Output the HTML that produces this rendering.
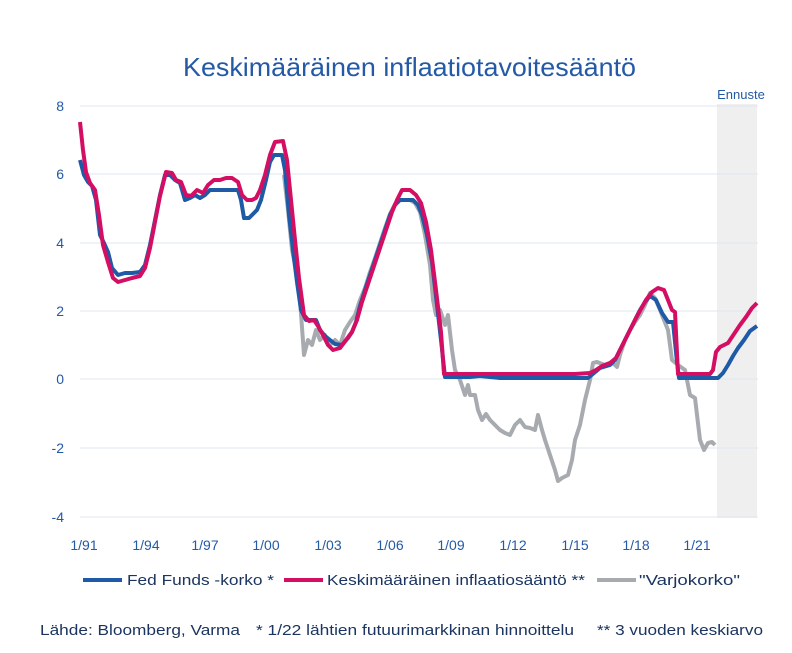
<!DOCTYPE html>
<html><head><meta charset="utf-8"><style>
body{margin:0;background:#fff;width:792px;height:648px;overflow:hidden;font-family:"Liberation Sans",sans-serif}
</style></head><body>
<svg width="792" height="648" viewBox="0 0 792 648" xmlns="http://www.w3.org/2000/svg" font-family="Liberation Sans, sans-serif">
<rect x="717" y="104" width="40" height="414" fill="#efefef"/>
<text x="183" y="76" font-size="26" fill="#2459a6" textLength="453" lengthAdjust="spacingAndGlyphs">Keskimääräinen inflaatiotavoitesääntö</text>
<text x="741" y="99" text-anchor="middle" font-size="13" fill="#2459a6">Ennuste</text>
<g stroke="#dfe5ee" stroke-width="1">
<line x1="80" y1="106" x2="758" y2="106"/><line x1="80" y1="174" x2="758" y2="174"/><line x1="80" y1="243" x2="758" y2="243"/><line x1="80" y1="311" x2="758" y2="311"/><line x1="80" y1="379" x2="758" y2="379"/><line x1="80" y1="448" x2="758" y2="448"/><line x1="80" y1="517" x2="758" y2="517"/>
</g>
<g font-size="14" fill="#2459a6" text-anchor="end">
<text x="64" y="111">8</text><text x="64" y="179">6</text><text x="64" y="248">4</text><text x="64" y="316">2</text><text x="64" y="384">0</text><text x="64" y="453">-2</text><text x="64" y="522">-4</text>
</g>
<g font-size="14" fill="#2459a6" text-anchor="middle">
<text x="84" y="550">1/91</text><text x="146" y="550">1/94</text><text x="205" y="550">1/97</text><text x="266" y="550">1/00</text><text x="328" y="550">1/03</text><text x="390" y="550">1/06</text><text x="451" y="550">1/09</text><text x="513" y="550">1/12</text><text x="575" y="550">1/15</text><text x="636" y="550">1/18</text><text x="697" y="550">1/21</text>
</g>
<g fill="none" stroke-width="4" stroke-linejoin="round">
<polyline stroke="#a7abb0" points="284,175 288,210 292,250 296,270 300,300 304,355 308,340 312,345 316,330 320,340 325,335 330,345 335,340 340,345 345,330 350,322 355,315 360,300 365,288 370,272 375,258 380,243 385,228 390,214 395,204 400,200 405,200 410,200 415,203 420,212 425,235 430,265 433,300 436,315 440,310 445,325 448,315 452,350 455,370 460,380 465,395 468,385 470,395 475,395 478,410 482,420 486,414 490,420 495,425 500,430 505,433 510,435 515,425 520,420 525,427 530,428 535,430 538,415 542,430 545,440 550,455 555,470 558,481 562,478 568,475 572,460 575,440 580,425 585,400 590,380 593,363 597,362 605,365 612,362 617,367 620,355 625,340 630,330 635,322 640,315 645,305 650,293 655,298 660,310 668,330 672,360 678,365 685,370 690,395 695,398 700,440 704,450 708,443 712,442 715,445"/>
<polyline stroke="#1f5aa6" points="80,160 84,175 88,182 92,186 96,200 100,235 104,243 108,252 112,268 118,275 125,273 132,273 140,272 145,265 150,245 155,220 160,195 165,175 170,175 175,180 180,183 185,200 190,198 195,195 200,198 205,195 210,190 220,190 230,190 238,190 241,200 244,218 249,218 253,214 257,210 261,200 266,180 270,162 274,155 282,155 285,170 289,215 293,250 297,282 301,310 306,320 316,320 320,330 325,336 330,340 335,344 342,345 348,338 352,332 356,322 360,306 365,290 370,275 375,260 380,245 385,230 390,215 395,205 400,200 413,200 418,205 422,215 427,235 432,262 437,305 441,340 445,377 470,377 480,376 500,378 530,378 560,378 588,378 594,373 600,368 610,365 615,360 620,350 625,340 630,330 635,320 640,310 645,302 650,296 656,300 662,313 668,322 673,322 677,362 679,378 718,378 723,373 728,365 733,356 738,348 744,340 750,331 757,326"/>
<polyline stroke="#d40f63" points="80,122 83,150 86,172 90,183 95,190 99,215 103,245 108,262 113,278 118,282 125,280 132,278 140,276 145,268 150,248 155,222 160,196 166,172 172,173 176,180 181,182 186,195 191,196 197,190 203,193 208,185 214,180 220,180 226,178 232,178 238,182 242,195 247,200 252,200 256,198 260,190 265,175 270,155 275,142 283,141 287,160 291,200 295,240 299,278 304,315 309,321 314,320 318,326 323,335 328,345 333,350 340,348 346,340 352,332 357,320 362,302 367,287 372,272 377,257 382,242 387,227 392,212 397,200 402,190 410,190 416,195 421,203 426,222 431,250 436,290 441,332 444,374 470,374 500,374 540,374 575,374 590,373 596,370 602,366 610,363 616,358 621,348 626,338 631,328 636,318 641,309 646,300 652,292 658,288 664,290 668,300 672,310 675,312 678,374 710,374 713,370 716,352 720,347 728,343 734,334 740,325 746,317 752,308 757,303"/>
</g>
<g stroke-width="4">
<line x1="83" y1="580" x2="122" y2="580" stroke="#1f5aa6"/>
<line x1="284" y1="580" x2="323" y2="580" stroke="#d40f63"/>
<line x1="597" y1="580" x2="636" y2="580" stroke="#a7abb0"/>
</g>
<g font-size="15" fill="#1b3560" lengthAdjust="spacingAndGlyphs">
<text x="127" y="585" textLength="147" lengthAdjust="spacingAndGlyphs">Fed Funds -korko *</text>
<text x="327" y="585" textLength="258" lengthAdjust="spacingAndGlyphs">Keskimääräinen inflaatiosääntö **</text>
<text x="639" y="585" textLength="101" lengthAdjust="spacingAndGlyphs">"Varjokorko"</text>
<text x="40" y="635" textLength="200" lengthAdjust="spacingAndGlyphs">Lähde: Bloomberg, Varma</text>
<text x="256" y="635" textLength="318" lengthAdjust="spacingAndGlyphs">* 1/22 lähtien futuurimarkkinan hinnoittelu</text>
<text x="597" y="635" textLength="166" lengthAdjust="spacingAndGlyphs">** 3 vuoden keskiarvo</text>
</g>
</svg>
</body></html>
